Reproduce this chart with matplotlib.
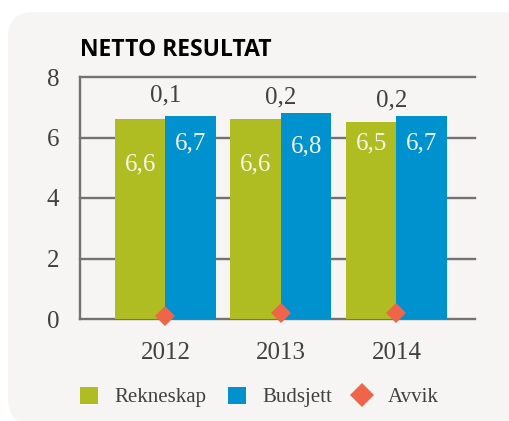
import matplotlib
matplotlib.use("Agg")
import matplotlib.pyplot as plt
import numpy as np
from matplotlib.patches import FancyBboxPatch, Patch
from matplotlib.lines import Line2D

# ---- data ----
years = ["2012", "2013", "2014"]
rekneskap = [6.6, 6.6, 6.5]
budsjett = [6.7, 6.8, 6.7]
avvik = [0.1, 0.2, 0.2]
yticks = [0, 2, 4, 6, 8]
title = "NETTO RESULTAT"
series_names = ["Rekneskap", "Budsjett", "Avvik"]

# ---- style ----
GREEN = "#afbd22"
BLUE = "#0092cf"
ORANGE = "#ef6549"
BG = "#f6f5f3"
GRID = "#727272"
TEXT = "#404040"
SERIF = ["Liberation Serif", "DejaVu Serif"]

W, H = 509, 421
fig = plt.figure(figsize=(W / 100, H / 100), dpi=100)
fig.patch.set_facecolor("white")

# rounded background panel, drawn in a pixel-unit background axes
bg = fig.add_axes([0, 0, 1, 1], zorder=-10)
bg.set_xlim(0, W)
bg.set_ylim(H, 0)
bg.axis("off")
bg.add_patch(FancyBboxPatch((8, 12), W + 20 - 8, H + 4 - 12,
                            boxstyle="round,pad=0,rounding_size=26",
                            facecolor=BG, edgecolor="none"))

ax = fig.add_axes([80 / W, 1 - 319 / H, 395 / W, (319 - 77) / H])
ax.set_facecolor("none")

x = np.arange(len(years))
bw = 0.437
ax.bar(x - bw / 2, rekneskap, width=bw, color=GREEN, zorder=3)
ax.bar(x + bw / 2, budsjett, width=bw, color=BLUE, zorder=3)
ax.plot(x, avvik, linestyle="none", marker="D", markersize=10.5,
        color=ORANGE, markeredgewidth=0, zorder=5, clip_on=False)

ax.set_ylim(0, 8)
ax.set_xlim(-0.74, 2.68)
ax.set_yticks(yticks)
ax.set_yticklabels([str(t) for t in yticks], fontfamily=SERIF, fontsize=18, color=TEXT)
ax.set_xticks(x)
ax.set_xticklabels(years, fontfamily=SERIF, fontsize=18, color=TEXT)
ax.tick_params(axis="y", length=0, pad=15)
ax.tick_params(axis="x", length=0, pad=16.5)

for t in yticks:
    ax.axhline(t, color=GRID, linewidth=1.7, zorder=1, clip_on=False)
for s in ["top", "right", "bottom"]:
    ax.spines[s].set_visible(False)
ax.spines["left"].set_color(GRID)
ax.spines["left"].set_linewidth(1.7)
ax.spines["left"].set_zorder(4)

# value labels inside bars
green_label_y = [5.1, 5.1, 5.8]
blue_label_y = [5.8, 5.7, 5.8]
for i in range(len(years)):
    ax.text(x[i] - bw / 2, green_label_y[i], f"{rekneskap[i]:.1f}".replace(".", ","),
            ha="center", va="center", fontfamily=SERIF, fontsize=18,
            color="#f6f6e6", zorder=6)
    ax.text(x[i] + bw / 2, blue_label_y[i], f"{budsjett[i]:.1f}".replace(".", ","),
            ha="center", va="center", fontfamily=SERIF, fontsize=18,
            color="#f2f7fb", zorder=6)
avvik_label_y = [7.4, 7.33, 7.23]
avvik_dx = [0, 0, -0.04]
for i in range(len(years)):
    ax.text(x[i] + avvik_dx[i], avvik_label_y[i], f"{avvik[i]:.1f}".replace(".", ","),
            ha="center", va="center", fontfamily=SERIF, fontsize=18,
            color=TEXT, zorder=6)

fig.text(80 / W, 1 - 50 / H, title, fontfamily=["Open Sans", "DejaVu Sans"],
         fontweight="bold", fontsize=16.5, color="black", ha="left", va="center")

handles = [Patch(facecolor=GREEN, edgecolor="none"),
           Patch(facecolor=BLUE, edgecolor="none"),
           Line2D([], [], linestyle="none", marker="D", markersize=12,
                  color=ORANGE, markeredgewidth=0)]
leg = fig.legend(handles, series_names, loc="center left",
                 bbox_to_anchor=(80 / W, 1 - 397 / H), ncol=3, frameon=False,
                 prop={"family": SERIF, "size": 15},
                 handlelength=0.87, handleheight=0.87, handletextpad=0.8,
                 columnspacing=1.0, borderaxespad=0, borderpad=0)
for t in leg.get_texts():
    t.set_color(TEXT)

fig.savefig("out.png", dpi=100, facecolor=fig.get_facecolor())
